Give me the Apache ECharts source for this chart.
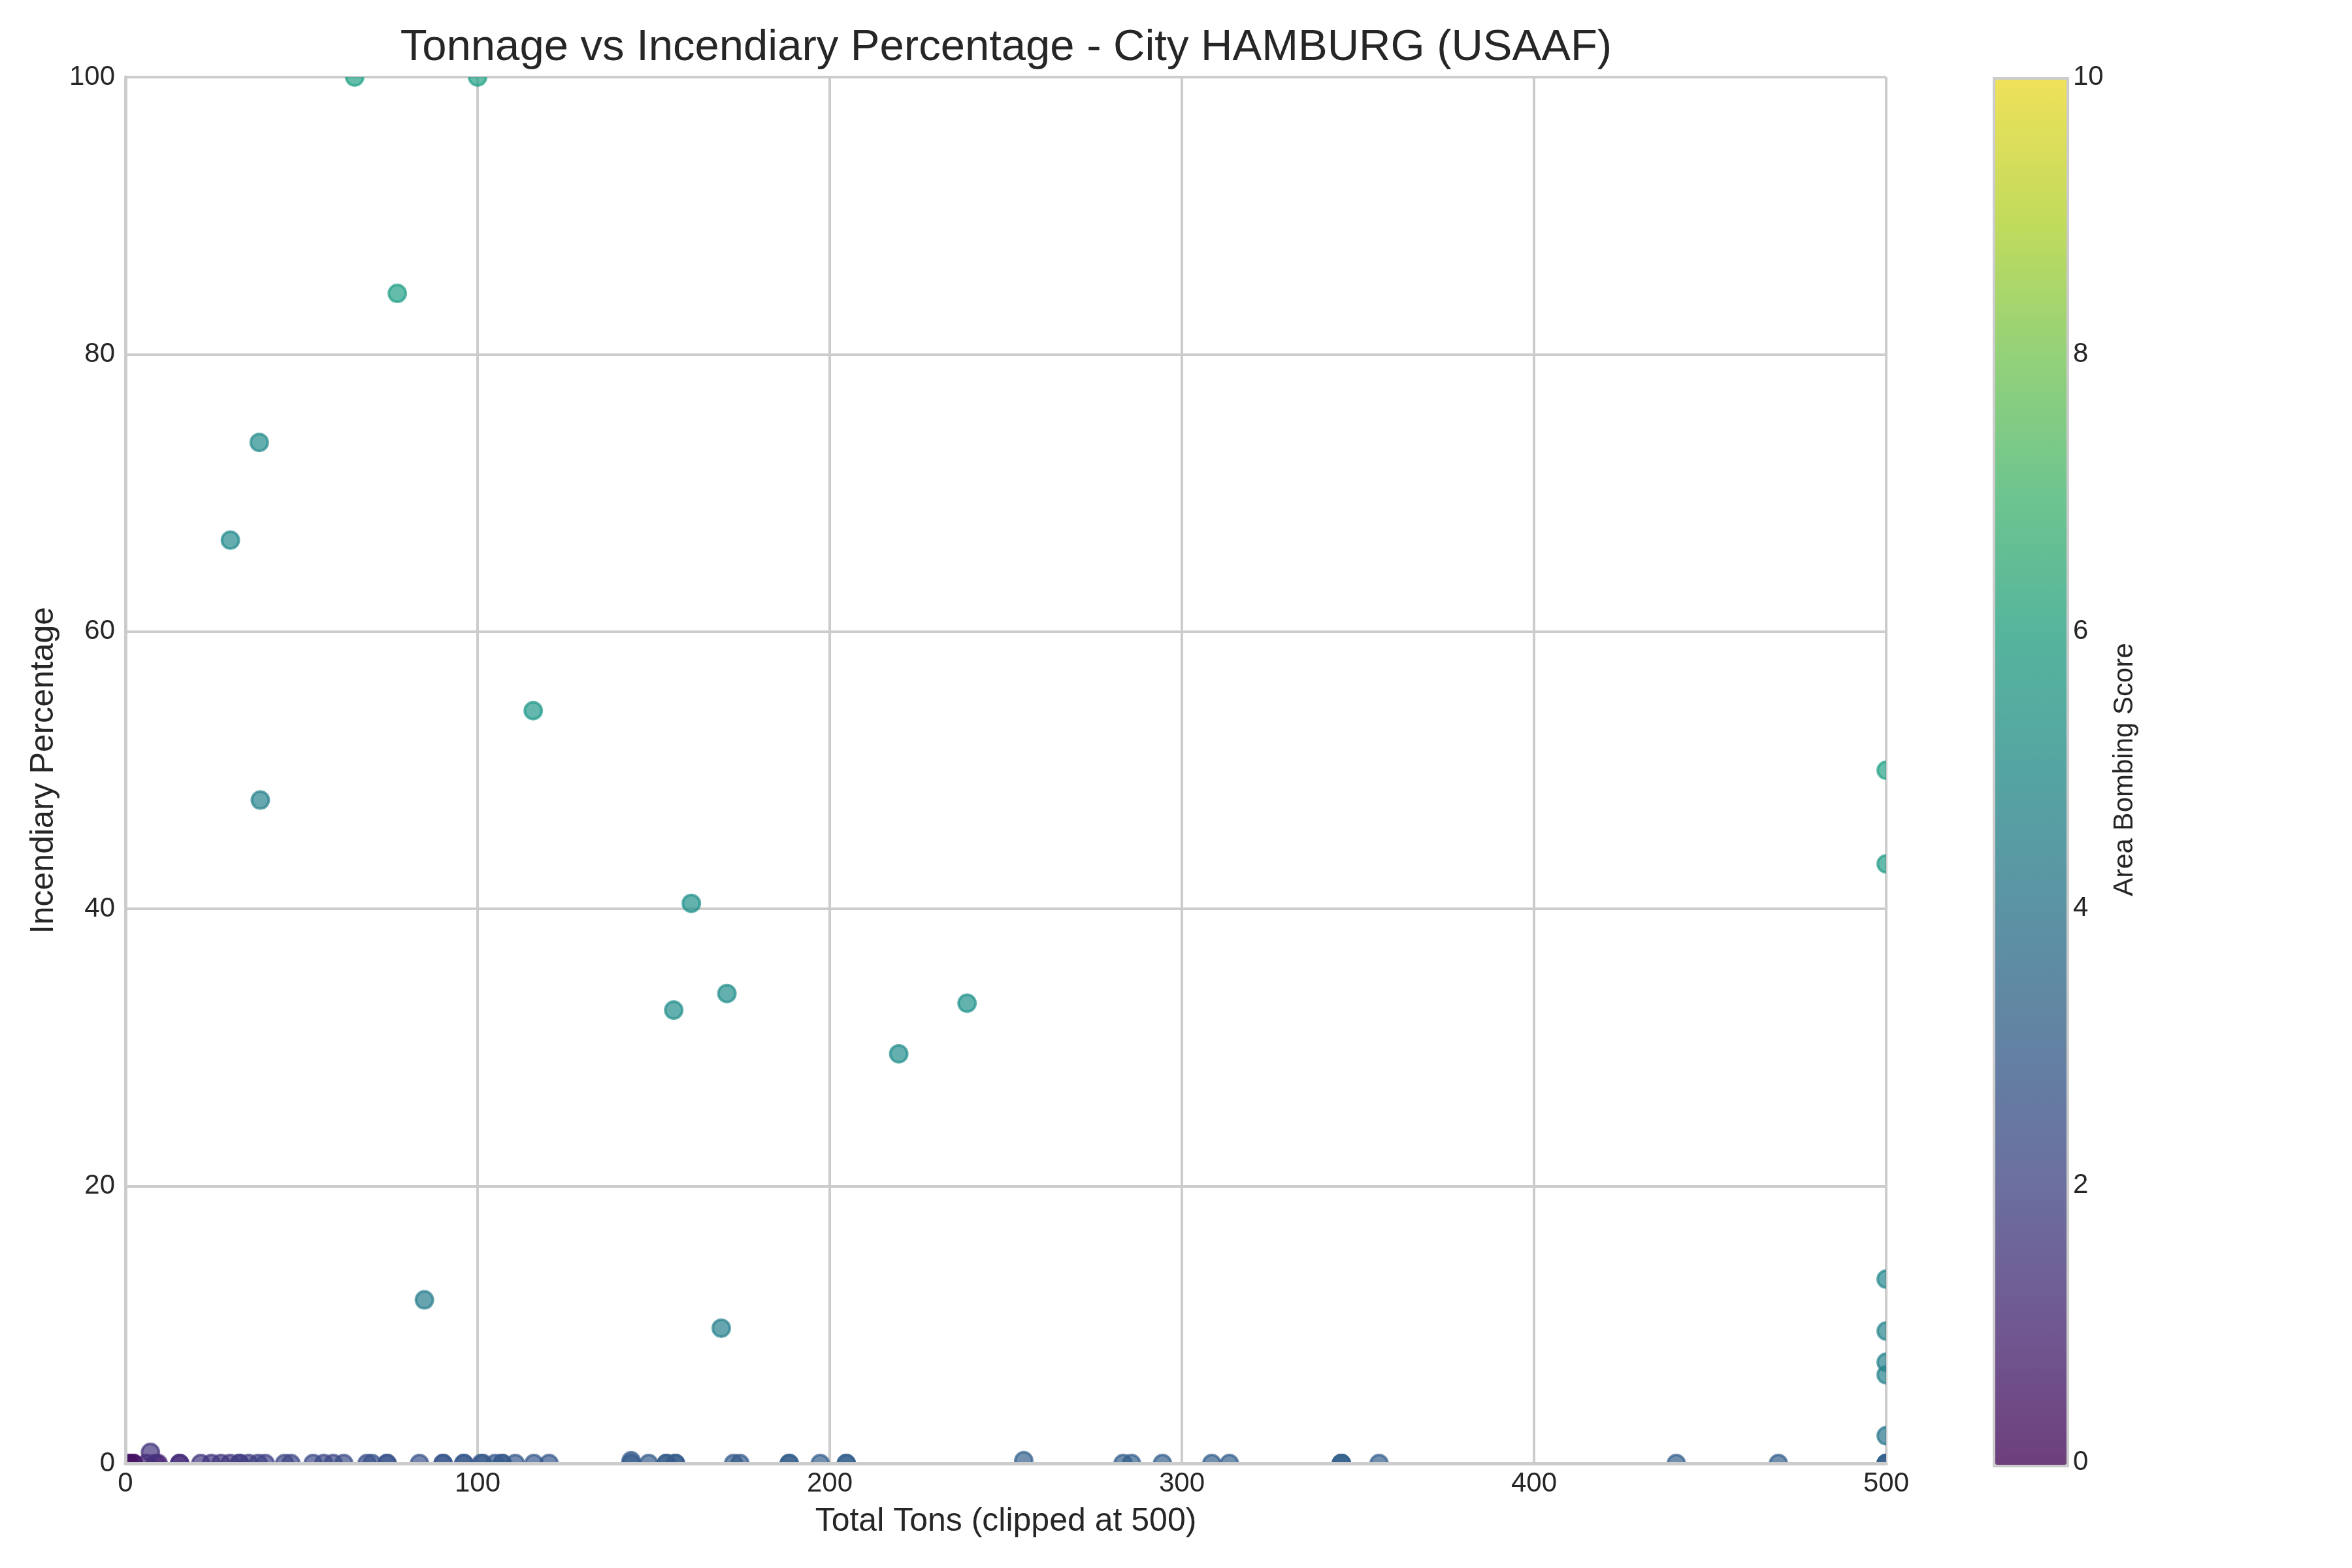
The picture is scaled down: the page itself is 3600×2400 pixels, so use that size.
<!DOCTYPE html>
<html>
<head>
<meta charset="utf-8">
<script src="https://cdn.jsdelivr.net/npm/echarts@6/dist/echarts.min.js"></script>
<style>
  html, body { margin: 0; padding: 0; background: #ffffff; }
  #chart-wrap { width: 3600px; height: 2400px; }
</style>
</head>
<body>
<div id="chart-wrap"></div>
<script>
// total tons per raid (clipped at 500)
var tons = [
  65.1, 100, 77.2, 38.0, 29.8, 115.8, 38.3, 160.7, 155.7, 170.8, 239.0, 219.6,
  84.9, 169.2, 500, 500, 500, 500, 500, 500, 500,
  0.3, 1.2, 2.2, 2.3, 6.0, 8.5, 9.3, 7.1, 15.4, 15.4,
  21.4, 24.4, 27.1, 29.7, 32.4, 32.4, 35.0, 37.7, 39.7,
  45.2, 47.0, 53.3, 56.3, 59.0, 62.0, 68.6, 70.0, 74.3, 74.3,
  83.5, 90.2, 90.2, 96.1, 96.1, 101.0, 101.5, 105.0, 107.0, 107.0, 110.7, 116.0, 120.3,
  143.6, 143.6, 148.6, 153.6, 153.6, 156.2, 156.2, 172.7, 174.5, 188.5, 188.5, 197.3, 204.7, 204.7,
  255.1, 283.3, 285.7, 294.5, 308.5, 313.5, 345.3, 345.3, 345.3, 356.0, 440.4, 469.4,
  500, 500, 500
];
// incendiary share of the bomb load, %
var incendiaryPct = [
  100, 100, 84.4, 73.65, 66.6, 54.3, 47.85, 40.4, 32.7, 33.9, 33.2, 29.55,
  11.8, 9.76, 50.0, 43.25, 13.3, 9.55, 7.3, 6.4, 2.0,
  0, 0, 0, 0, 0, 0, 0, 0.8, 0, 0,
  0, 0, 0, 0, 0, 0, 0, 0, 0,
  0, 0, 0, 0, 0, 0, 0, 0, 0, 0,
  0, 0, 0, 0, 0, 0, 0, 0, 0, 0, 0, 0, 0,
  0.2, 0, 0, 0, 0, 0, 0, 0, 0, 0, 0, 0, 0, 0,
  0.2, 0, 0, 0, 0, 0, 0, 0, 0, 0, 0, 0,
  0, 0, 0
];
// area bombing score (colour)
var areaScore = [
  5.8, 5.8, 5.6, 4.8, 4.7, 5.3, 4.4, 5.0, 4.9, 4.9, 5.0, 4.9,
  4.2, 4.3, 5.8, 5.5, 4.6, 4.5, 4.4, 4.4, 4.0,
  0.2, 0.4, 0.6, 0.5, 0.9, 1.0, 1.0, 1.5, 1.2, 1.3,
  1.6, 1.6, 1.7, 1.7, 1.8, 1.8, 1.8, 1.9, 2.0,
  2.2, 2.2, 2.3, 2.3, 2.3, 2.4, 2.4, 2.5, 2.5, 2.6,
  2.6, 2.7, 2.7, 2.7, 2.8, 2.7, 2.8, 2.8, 2.8, 2.8, 2.8, 2.8, 2.8,
  2.9, 2.9, 2.9, 2.9, 2.9, 2.9, 2.9, 2.9, 2.9, 2.9, 3.0, 3.0, 3.0, 3.0,
  3.1, 3.0, 3.0, 3.0, 3.0, 3.0, 3.1, 3.1, 3.1, 3.0, 3.0, 3.0,
  3.1, 3.1, 3.1
];
var xTicks = [0, 100, 200, 300, 400, 500];
var yTicks = [0, 20, 40, 60, 80, 100];
var scoreTicks = [0, 2, 4, 6, 8, 10];

// viridis, alpha 0.7
var viridis = [
  'rgba(68,1,84,0.7)', 'rgba(72,36,117,0.7)', 'rgba(65,68,135,0.7)',
  'rgba(53,95,141,0.7)', 'rgba(42,120,142,0.7)', 'rgba(33,145,140,0.7)',
  'rgba(34,168,132,0.7)', 'rgba(68,191,112,0.7)', 'rgba(122,209,81,0.7)',
  'rgba(189,223,38,0.7)', 'rgba(253,231,37,0.7)'
];

var points = [];
for (var i = 0, len = tons.length; i < len; i++) {
  points.push([tons[i], incendiaryPct[i], areaScore[i]]);
}

var FONT = 'Liberation Sans, Arial, sans-serif';
var TXT = '#262626';
var GRIDC = '#cccccc';

function lineOnlyAxis(pos, min, max) {
  return {
    type: 'value', gridIndex: 0, position: pos, min: min, max: max, z: 3,
    axisLine: { show: true, lineStyle: { color: GRIDC, width: 5 } },
    axisTick: { show: false }, axisLabel: { show: false }, splitLine: { show: false }
  };
}

var myChart = echarts.init(document.getElementById('chart-wrap'));
var option = {
  backgroundColor: '#ffffff',
  animation: false,
  title: {
    text: 'Tonnage vs Incendiary Percentage - City HAMBURG (USAAF)',
    left: 1540, top: 40, padding: 0, textAlign: 'center',
    textStyle: { fontFamily: FONT, fontSize: 67, fontWeight: 'normal', color: TXT }
  },
  grid: [
    { left: 192, right: 713, top: 118, bottom: 160 },
    { left: 3050, width: 109, top: 118, bottom: 162 }
  ],
  xAxis: [
    {
      type: 'value', gridIndex: 0, position: 'bottom', min: 0, max: 500, interval: 100, z: 3,
      name: 'Total Tons (clipped at 500)', nameLocation: 'middle', nameGap: 64,
      nameTextStyle: { fontFamily: FONT, fontSize: 50, color: TXT },
      axisLine: { show: true, lineStyle: { color: GRIDC, width: 5 } },
      axisTick: { show: false },
      axisLabel: { fontFamily: FONT, fontSize: 42, color: TXT, margin: 10,
        customValues: xTicks },
      splitLine: { show: false }
    },
    lineOnlyAxis('top', 0, 500),
    {
      type: 'value', gridIndex: 0, position: 'bottom', min: 0, max: 500, interval: 100, z: 0,
      axisLine: { show: false }, axisTick: { show: false }, axisLabel: { show: false },
      splitLine: { show: true, lineStyle: { color: GRIDC, width: 4 } }
    },
    {
      type: 'value', gridIndex: 1, min: 0, max: 1, show: false
    }
  ],
  yAxis: [
    {
      type: 'value', gridIndex: 0, position: 'left', min: 0, max: 100, interval: 20, z: 3,
      name: 'Incendiary Percentage', nameLocation: 'middle', nameGap: 100, nameRotate: 90,
      nameTextStyle: { fontFamily: FONT, fontSize: 50, color: TXT },
      axisLine: { show: true, lineStyle: { color: GRIDC, width: 5 } },
      axisTick: { show: false },
      axisLabel: { fontFamily: FONT, fontSize: 42, color: TXT, margin: 16,
        customValues: yTicks },
      splitLine: { show: false }
    },
    lineOnlyAxis('right', 0, 100),
    {
      type: 'value', gridIndex: 0, position: 'left', min: 0, max: 100, interval: 20, z: 0,
      axisLine: { show: false }, axisTick: { show: false }, axisLabel: { show: false },
      splitLine: { show: true, lineStyle: { color: GRIDC, width: 4 } }
    },
    {
      type: 'value', gridIndex: 1, position: 'right', min: 0, max: 10, interval: 2,
      name: 'Area Bombing Score', nameLocation: 'middle', nameGap: 72, nameRotate: 90,
      nameTextStyle: { fontFamily: FONT, fontSize: 42, color: TXT },
      axisLine: { show: false }, axisTick: { show: false }, splitLine: { show: false },
      axisLabel: { fontFamily: FONT, fontSize: 42, color: TXT, margin: 14,
        customValues: scoreTicks }
    }
  ],
  visualMap: {
    type: 'continuous',
    min: 0, max: 10, dimension: 2, seriesIndex: 0,
    calculable: false, orient: 'vertical',
    left: 3050, top: 118, itemWidth: 109, itemHeight: 2120,
    padding: 0, text: null, showLabel: false,
    borderColor: GRIDC, borderWidth: 8,
    inRange: { color: viridis }
  },
  series: [
    {
      type: 'custom',
      xAxisIndex: 0, yAxisIndex: 0,
      clip: true,
      encode: { x: 0, y: 1 },
      data: points,
      renderItem: function (params, api) {
        var p = api.coord([api.value(0), api.value(1)]);
        var c = api.visual('color');
        return {
          type: 'circle',
          shape: { cx: p[0], cy: p[1], r: 13 },
          style: { fill: c, stroke: c, lineWidth: 4 }
        };
      }
    }
  ]
};
myChart.setOption(option);
</script>
</body>
</html>
